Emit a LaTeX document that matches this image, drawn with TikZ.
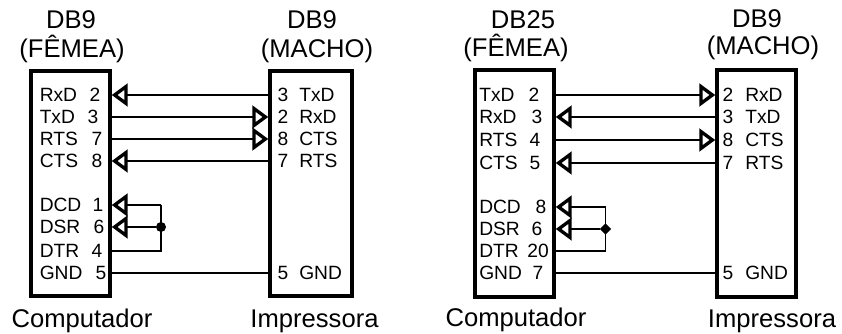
\documentclass[tikz,border=0pt]{standalone}
\usepackage{fontspec}
\setmainfont{Liberation Sans}
\usetikzlibrary{arrows.meta,shapes.geometric}
\tikzset{
  x=0.75pt,y=-0.75pt,
  conn/.style={draw=black,inner sep=0pt,outer sep=1.3pt,line width=2.6pt,rectangle,fill=white},
  wire/.style={line width=1.1pt,black},
  tipped/.style={wire,-{Triangle[open,fill=white,length=12pt,width=17pt,line width=2.5pt]}},
  big/.style={inner sep=0pt,anchor=base,font=\fontsize{19.2}{20}\selectfont},
  pinname/.style={inner sep=0pt,anchor=base west,font=\fontsize{14.4}{16}\selectfont},
  pinnum/.style={inner sep=0pt,anchor=base,font=\fontsize{14.4}{16}\selectfont},
  jdot/.style={circle,fill=black,inner sep=0pt,minimum size=7.5pt},
  jdia/.style={diamond,fill=black,inner sep=0pt,minimum size=8.5pt},
}
% #1 node prefix, #2 name, #3 name x, #4 num, #5 num x, #6 wire y
\newcommand{\pinlabel}[6]{%
  \node[pinname] (#1n) at (#3,#6+7) {#2};
  \node[pinnum] (#1p) at (#5,#6+7) {#4};
  \coordinate (#1) at (0,#6);}
\newcommand{\pinlabelR}[6]{%
  \node[pinnum] (#1p) at (#5,#6+7) {#4};
  \node[pinname] (#1n) at (#3,#6+7) {#2};
  \coordinate (#1) at (0,#6);}
\begin{document}
\begin{tikzpicture}
\useasboundingbox (0,0) rectangle (842,334);
% connectors bodies
\node[conn,minimum width=59.25pt,minimum height=168.75pt] (A) at (70.5,183.5) {};
\node[conn,minimum width=61.5pt,minimum height=168.75pt] (B) at (311,183.5) {};
\node[conn,minimum width=59.25pt,minimum height=170.25pt] (C) at (514.5,183.5) {};
\node[conn,minimum width=59.25pt,minimum height=170.25pt] (D) at (756.5,183.5) {};
% titles
\node[big] (ta1) at (71,29) {DB9};
\node[big] (ta2) at (72,58) {(FÊMEA)};
\node[big] (tb1) at (312,29) {DB9};
\node[big] (tb2) at (317,58) {(MACHO)};
\node[big] (tc1) at (523,29) {DB25};
\node[big] (tc2) at (516,57) {(FÊMEA)};
\node[big] (td1) at (757,28) {DB9};
\node[big] (td2) at (763,55) {(MACHO)};
\node[big] (ca) at (82,328) {Computador};
\node[big] (ib) at (314.5,328) {Impressora};
\node[big] (cc) at (516,327) {Computador};
\node[big] (id) at (772,328) {Impressora};
% panel 1 pins
\pinlabel{a2}{RxD}{39.5}{2}{95}{95}
\pinlabel{a3}{TxD}{39.5}{3}{93}{117}
\pinlabel{a7}{RTS}{39.5}{7}{97}{139}
\pinlabel{a8}{CTS}{39.5}{8}{97}{161}
\pinlabel{a1}{DCD}{39.5}{1}{98}{205}
\pinlabel{a6}{DSR}{39.5}{6}{99}{227}
\pinlabel{a4}{DTR}{39.5}{4}{97}{251}
\pinlabel{a5}{GND}{39.5}{5}{101}{273}
\pinlabelR{b3}{TxD}{299}{3}{283}{95}
\pinlabelR{b2}{RxD}{299}{2}{283}{117}
\pinlabelR{b8}{CTS}{299}{8}{283}{139}
\pinlabelR{b7}{RTS}{299}{7}{283}{161}
\pinlabelR{b5}{GND}{299}{5}{283}{273}
% panel 2 pins
\pinlabel{c2}{TxD}{479}{2}{534}{95}
\pinlabel{c3}{RxD}{479}{3}{537}{117}
\pinlabel{c4}{RTS}{479}{4}{535}{140}
\pinlabel{c5}{CTS}{479}{5}{535}{163}
\pinlabel{c8}{DCD}{479}{8}{541}{207}
\pinlabel{c6}{DSR}{479}{6}{537}{229}
\pinlabel{c20}{DTR}{479}{20}{538}{251}
\pinlabel{c7}{GND}{479}{7}{538}{273}
\pinlabelR{d2}{RxD}{745}{2}{728}{95}
\pinlabelR{d3}{TxD}{745}{3}{728}{117}
\pinlabelR{d8}{CTS}{745}{8}{728}{140}
\pinlabelR{d7}{RTS}{745}{7}{728}{163}
\pinlabelR{d5}{GND}{745}{5}{728}{273}
% panel 1 wires
\draw[tipped] (B.west |- b3) -- (A.east |- a2);
\draw[tipped] (A.east |- a3) -- (B.west |- b2);
\draw[tipped] (A.east |- a7) -- (B.west |- b8);
\draw[tipped] (B.west |- b7) -- (A.east |- a8);
\draw[wire] (A.east |- a5) -- (B.west |- b5);
\node[jdot] (j1) at (161,227) {};
\coordinate (j1t) at (161,205);
\coordinate (j1b) at (161,251);
\draw[wire] (A.east |- a4) -- (j1b) -- (j1t);
\draw[tipped] (j1t) -- (A.east |- a1);
\draw[tipped] (j1) -- (A.east |- a6);
% panel 2 wires
\draw[tipped] (C.east |- c2) -- (D.west |- d2);
\draw[tipped] (D.west |- d3) -- (C.east |- c3);
\draw[tipped] (C.east |- c4) -- (D.west |- d8);
\draw[tipped] (D.west |- d7) -- (C.east |- c5);
\draw[wire] (C.east |- c7) -- (D.west |- d5);
\node[jdia] (j2) at (605.5,229) {};
\coordinate (j2t) at (605.5,207);
\coordinate (j2b) at (605.5,251);
\draw[wire] (C.east |- c20) -- (j2b) -- (j2t);
\draw[tipped] (j2t) -- (C.east |- c8);
\draw[tipped] (j2) -- (C.east |- c6);
\end{tikzpicture}
\end{document}
